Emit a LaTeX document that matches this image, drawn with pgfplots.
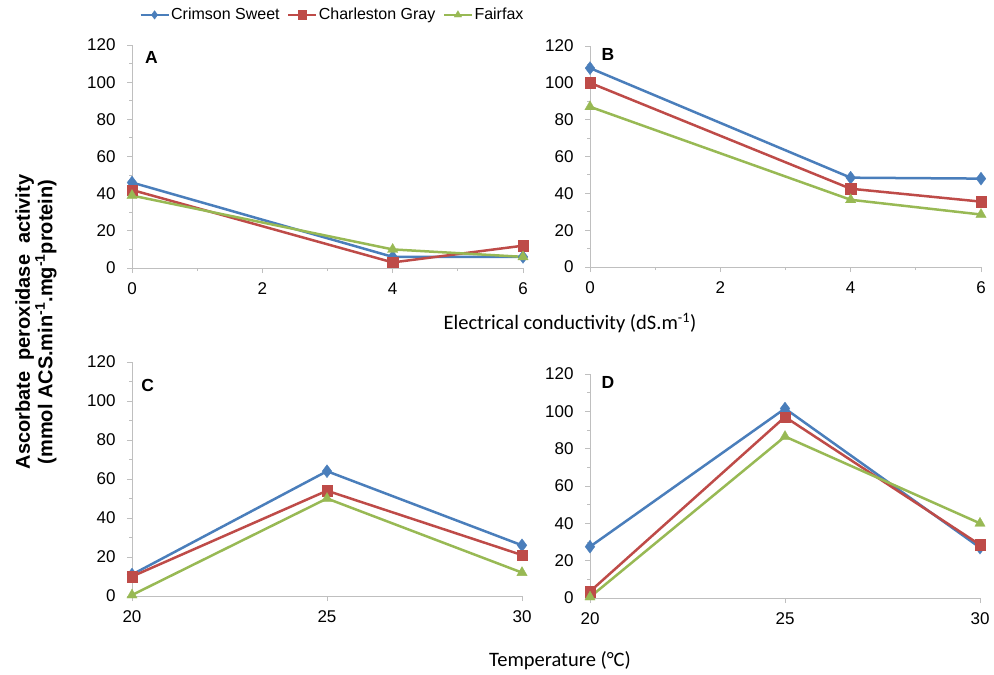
\documentclass[border=0pt]{standalone}
\usepackage{fontspec}
\setmainfont{Liberation Sans}
\newfontfamily\calibri{Carlito}
\usepackage{pgfplots}
\pgfplotsset{compat=1.18}
\definecolor{cblue}{RGB}{74,126,187}
\definecolor{cred}{RGB}{190,75,72}
\definecolor{cgreen}{RGB}{152,185,84}
\definecolor{axgray}{RGB}{191,191,191}

\tikzset{lett/.style={font=\bfseries\fontsize{17.5}{19}\selectfont}}
\pgfplotsset{
 panel/.style={
  scale only axis, clip=false,
  axis lines*=left,
  axis line style={axgray, line width=0.9pt},
  tick style={axgray, line width=0.9pt},
  tick align=outside,
  major tick length=5pt, minor tick length=3pt,
  ymin=0, ymax=120, ytick={0,20,...,120}, minor y tick num=1,
  /pgf/number format/assume math mode=true,
  ticklabel style={font=\fontsize{17}{19}\selectfont},
  xticklabel style={yshift=-6pt},
  yticklabel style={xshift=-8pt},
  every axis plot/.append style={line width=2.5pt, mark options={solid, line width=0.3pt}},
 },
 cs/.style={color=cblue, mark=diamond*, mark size=6.5pt},
 cg/.style={color=cred, mark=square*, mark size=5.2pt},
 ff/.style={color=cgreen, mark=triangle*, mark size=6pt},
}

\begin{document}
\begin{tikzpicture}
\path (0pt,0pt) rectangle (994pt,-675pt);

% Panel A
\begin{axis}[panel, at={(132pt,-268pt)}, anchor=south west,
  width=391pt, height=223pt, xmin=0, xmax=6, xtick={0,2,4,6}, minor x tick num=1,
  legend columns=3,
  legend style={at={(0.512,1.135)}, anchor=center, draw=none, fill=none,
    font=\fontsize{16}{18}\selectfont, inner sep=0pt,
    /tikz/every even column/.append style={column sep=6pt},
    nodes={inner sep=1.5pt}},
  legend image code/.code={\draw[#1, mark size=4.3pt, line width=2.2pt, mark repeat=2, mark phase=2] plot coordinates {(0pt,0pt) (14pt,0pt) (28pt,0pt)};},
]
\addplot[cs] coordinates {(0,46) (4,6) (6,6)};
\addplot[cg] coordinates {(0,42) (4,3) (6,12)};
\addplot[ff] coordinates {(0,39) (4,10) (6,6)};
\legend{Crimson Sweet, Charleston Gray, Fairfax}
\node[lett] at (rel axis cs:0.05,0.946) {A};
\end{axis}

% Panel B
\begin{axis}[panel, at={(590pt,-267pt)}, anchor=south west,
  width=391pt, height=221pt, xmin=0, xmax=6, xtick={0,2,4,6}, minor x tick num=1]
\addplot[cs] coordinates {(0,108) (4,48.5) (6,48)};
\addplot[cg] coordinates {(0,100) (4,42.5) (6,35.5)};
\addplot[ff] coordinates {(0,87) (4,36.5) (6,28.5)};
\node[lett] at (rel axis cs:0.046,0.96) {B};
\end{axis}

% Panel C
\begin{axis}[panel, at={(132pt,-596pt)}, anchor=south west,
  width=390pt, height=234pt, xmin=20, xmax=30, xtick={20,25,30}]
\addplot[cs] coordinates {(20,11) (25,64) (30,26)};
\addplot[cg] coordinates {(20,10) (25,54) (30,21)};
\addplot[ff] coordinates {(20,0.5) (25,50) (30,12)};
\node[lett] at (rel axis cs:0.04,0.90) {C};
\end{axis}

% Panel D
\begin{axis}[panel, at={(590pt,-598pt)}, anchor=south west,
  width=390pt, height=224pt, xmin=20, xmax=30, xtick={20,25,30}]
\addplot[cs] coordinates {(20,27.5) (25,101.5) (30,27)};
\addplot[cg] coordinates {(20,3.5) (25,97) (30,28.5)};
\addplot[ff] coordinates {(20,0.5) (25,86.5) (30,40)};
\node[lett] at (rel axis cs:0.046,0.964) {D};
\end{axis}

% Titles
\node[font=\calibri\fontsize{20.5}{24}\selectfont] at (570pt,-323pt) {Electrical conductivity (dS.m\textsuperscript{-1})};
\node[font=\calibri\fontsize{20.5}{24}\selectfont] at (560pt,-661pt) {Temperature (°C)};
\node[rotate=90, align=center, font=\bfseries\fontsize{20}{22.5}\selectfont] at (36pt,-322pt)
  {Ascorbate\ \ peroxidase\ \ activity\\(mmol ACS.min\textsuperscript{-1}.mg\textsuperscript{-1}protein)};
\end{tikzpicture}
\end{document}
